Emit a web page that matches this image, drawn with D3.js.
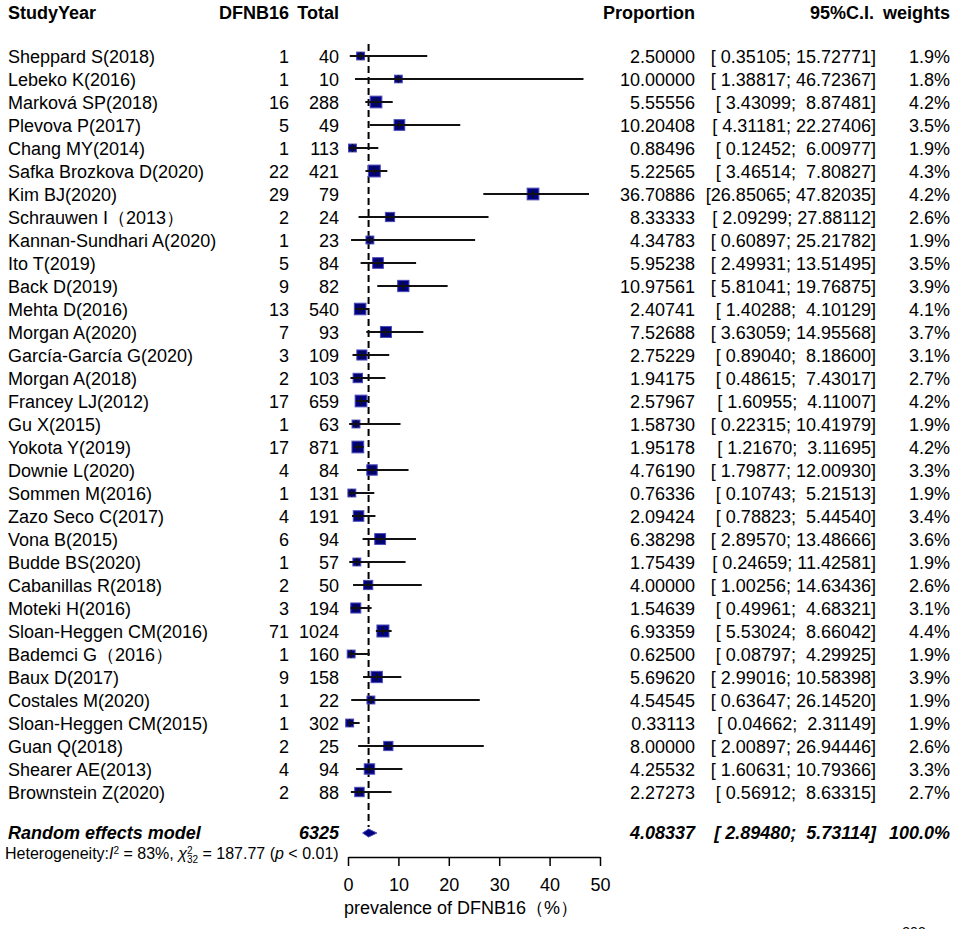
<!DOCTYPE html>
<meta charset="utf-8">
<head>
    <script src="https://d3js.org/d3.v7.min.js"></script>
    <title>DFNB16 forest plot</title>
</head>
<body>
    <div id="forest_viz"></div>
</body>
<style>
    body {
        margin: 0;
        background: #fff;
    }
    text {
        font-family: "Liberation Sans", Arial, sans-serif;
        fill: #000;
    }
</style>
<script>
    // study data
    var studies = ["Sheppard S(2018)", "Lebeko K(2016)", "Marková SP(2018)", "Plevova P(2017)",
        "Chang MY(2014)", "Safka Brozkova D(2020)", "Kim BJ(2020)", "Schrauwen I（2013）",
        "Kannan-Sundhari A(2020)", "Ito T(2019)", "Back D(2019)", "Mehta D(2016)", "Morgan A(2020)",
        "García-García G(2020)", "Morgan A(2018)", "Francey LJ(2012)", "Gu X(2015)", "Yokota Y(2019)",
        "Downie L(2020)", "Sommen M(2016)", "Zazo Seco C(2017)", "Vona B(2015)", "Budde BS(2020)",
        "Cabanillas R(2018)", "Moteki H(2016)", "Sloan-Heggen CM(2016)", "Bademci G（2016）",
        "Baux D(2017)", "Costales M(2020)", "Sloan-Heggen CM(2015)", "Guan Q(2018)",
        "Shearer AE(2013)", "Brownstein Z(2020)"];
    var events = [1, 1, 16, 5, 1, 22, 29, 2, 1, 5, 9, 13, 7, 3, 2, 17, 1, 17, 4, 1, 4, 6, 1, 2, 3, 71, 1, 9, 1, 1, 2, 4, 2];
    var totals = [40, 10, 288, 49, 113, 421, 79, 24, 23, 84, 82, 540, 93, 109, 103, 659, 63, 871, 84, 131,
        191, 94, 57, 50, 194, 1024, 160, 158, 22, 302, 25, 94, 88];
    var props = [2.50000, 10.00000, 5.55556, 10.20408, 0.88496, 5.22565, 36.70886, 8.33333, 4.34783,
        5.95238, 10.97561, 2.40741, 7.52688, 2.75229, 1.94175, 2.57967, 1.58730, 1.95178, 4.76190,
        0.76336, 2.09424, 6.38298, 1.75439, 4.00000, 1.54639, 6.93359, 0.62500, 5.69620, 4.54545,
        0.33113, 8.00000, 4.25532, 2.27273];
    var ciLow = [0.35105, 1.38817, 3.43099, 4.31181, 0.12452, 3.46514, 26.85065, 2.09299, 0.60897,
        2.49931, 5.81041, 1.40288, 3.63059, 0.89040, 0.48615, 1.60955, 0.22315, 1.21670, 1.79877,
        0.10743, 0.78823, 2.89570, 0.24659, 1.00256, 0.49961, 5.53024, 0.08797, 2.99016, 0.63647,
        0.04662, 2.00897, 1.60631, 0.56912];
    var ciHigh = [15.72771, 46.72367, 8.87481, 22.27406, 6.00977, 7.80827, 47.82035, 27.88112, 25.21782,
        13.51495, 19.76875, 4.10129, 14.95568, 8.18600, 7.43017, 4.11007, 10.41979, 3.11695, 12.00930,
        5.21513, 5.44540, 13.48666, 11.42581, 14.63436, 4.68321, 8.66042, 4.29925, 10.58398, 26.14520,
        2.31149, 26.94446, 10.79366, 8.63315];
    var weights = [1.9, 1.8, 4.2, 3.5, 1.9, 4.3, 4.2, 2.6, 1.9, 3.5, 3.9, 4.1, 3.7, 3.1, 2.7, 4.2, 1.9,
        4.2, 3.3, 1.9, 3.4, 3.6, 1.9, 2.6, 3.1, 4.4, 1.9, 3.9, 1.9, 1.9, 2.6, 3.3, 2.7];

    // random effects summary
    var pooledEst = 4.08337, pooledLow = 2.89480, pooledHigh = 5.73114, pooledTotal = 6325, pooledWeight = 100.0;
    var xTicks = [0, 10, 20, 30, 40, 50];

    var width = 957, height = 929;

    var svg = d3.select("#forest_viz")
        .append("svg")
        .attr("width", width)
        .attr("height", height);

    // scales
    var x = d3.scaleLinear().domain([0, 50]).range([348, 600]);
    var y = d3.scalePoint().domain(d3.range(studies.length)).range([56, 792]);
    var boxSize = d3.scaleSqrt().domain([0, 4.4]).range([0, 12]);
    var yPooled = 833, yAxis = 857;

    var f5 = d3.format(".5f");
    var ciText = function (lo, hi) {
        return "[" + f5(lo).padStart(8, " ") + "; " + f5(hi).padStart(8, " ") + "]";
    };

    // column headers
    var heads = [["StudyYear", 8, "start"], ["DFNB16", 289, "end"], ["Total", 339, "end"],
        ["Proportion", 695, "end"], ["95%C.I.", 874, "end"], ["weights", 950, "end"]];
    svg.selectAll(".head")
        .data(heads)
        .enter()
        .append("text")
        .attr("class", "head")
        .attr("x", function (d) { return d[1]; })
        .attr("y", 19)
        .attr("text-anchor", function (d) { return d[2]; })
        .style("font-size", "18px")
        .style("font-weight", "bold")
        .text(function (d) { return d[0]; });

    // table columns
    var rows = svg.selectAll(".row")
        .data(studies)
        .enter()
        .append("g")
        .attr("class", "row")
        .attr("transform", function (d, i) { return "translate(0," + (y(i) + 6.5) + ")"; })
        .style("font-size", "18px");

    rows.append("text").attr("x", 8).text(function (d) { return d; });
    rows.append("text").attr("x", 289).attr("text-anchor", "end")
        .text(function (d, i) { return events[i]; });
    rows.append("text").attr("x", 339).attr("text-anchor", "end")
        .text(function (d, i) { return totals[i]; });
    rows.append("text").attr("x", 695).attr("text-anchor", "end")
        .text(function (d, i) { return f5(props[i]); });
    rows.append("text").attr("x", 876).attr("text-anchor", "end")
        .attr("xml:space", "preserve").style("white-space", "pre")
        .text(function (d, i) { return ciText(ciLow[i], ciHigh[i]); });
    rows.append("text").attr("x", 950).attr("text-anchor", "end")
        .text(function (d, i) { return weights[i].toFixed(1) + "%"; });

    // pooled estimate reference line
    svg.append("line")
        .attr("x1", x(pooledEst)).attr("x2", x(pooledEst))
        .attr("y1", 44).attr("y2", yPooled - 6)
        .attr("stroke", "#000")
        .attr("stroke-width", 2)
        .attr("stroke-dasharray", "7,4");

    // study boxes and confidence intervals
    var marks = svg.selectAll(".mark")
        .data(studies)
        .enter()
        .append("g")
        .attr("class", "mark");

    marks.append("rect")
        .attr("x", function (d, i) { return x(props[i]) - boxSize(weights[i]) / 2; })
        .attr("y", function (d, i) { return y(i) - boxSize(weights[i]) / 2; })
        .attr("width", function (d, i) { return boxSize(weights[i]); })
        .attr("height", function (d, i) { return boxSize(weights[i]); })
        .attr("fill", "#000080")
        .attr("stroke", "#4a4ab8")
        .attr("stroke-width", 1);

    marks.append("line")
        .attr("x1", function (d, i) { return x(ciLow[i]); })
        .attr("x2", function (d, i) { return x(ciHigh[i]); })
        .attr("y1", function (d, i) { return y(i); })
        .attr("y2", function (d, i) { return y(i); })
        .attr("stroke", "#111")
        .attr("stroke-width", 2);

    marks.append("line")
        .attr("x1", function (d, i) { return x(props[i]); })
        .attr("x2", function (d, i) { return x(props[i]); })
        .attr("y1", function (d, i) { return y(i) - 4; })
        .attr("y2", function (d, i) { return y(i) + 4; })
        .attr("stroke", "#111")
        .attr("stroke-width", 1.5);

    // summary diamond
    svg.append("path")
        .attr("d", "M" + x(pooledLow) + "," + yPooled + "L" + x(pooledEst) + "," + (yPooled - 4) +
            "L" + x(pooledHigh) + "," + yPooled + "L" + x(pooledEst) + "," + (yPooled + 4) + "Z")
        .attr("fill", "#000080")
        .attr("stroke", "#4a4ab8")
        .attr("stroke-width", 1);

    // summary row text
    var pooled = svg.append("g")
        .attr("transform", "translate(0," + (yPooled + 6) + ")")
        .style("font-size", "18px")
        .style("font-weight", "bold")
        .style("font-style", "italic");
    pooled.append("text").attr("x", 8).text("Random effects model");
    pooled.append("text").attr("x", 339).attr("text-anchor", "end").text(pooledTotal);
    pooled.append("text").attr("x", 695).attr("text-anchor", "end").text(f5(pooledEst));
    pooled.append("text").attr("x", 876).attr("text-anchor", "end")
        .attr("xml:space", "preserve").style("white-space", "pre")
        .text(ciText(pooledLow, pooledHigh));
    pooled.append("text").attr("x", 950).attr("text-anchor", "end").text(pooledWeight.toFixed(1) + "%");

    // heterogeneity statement
    var het = svg.append("text")
        .attr("x", 5)
        .attr("y", 859)
        .style("font-size", "16px");
    het.append("tspan").text("Heterogeneity:");
    het.append("tspan").style("font-style", "italic").text("I");
    het.append("tspan").attr("dy", -5).style("font-size", "10px").text("2");
    het.append("tspan").attr("dy", 5).text(" = 83%, ");
    het.append("tspan").style("font-style", "italic").text("χ");
    het.append("tspan").attr("dy", -5).style("font-size", "10px").text("2");
    het.append("tspan").attr("dx", -5.6).attr("dy", 9).style("font-size", "10px").text("32");
    het.append("tspan").attr("dy", -4).text(" = 187.77 (");
    het.append("tspan").style("font-style", "italic").text("p");
    het.append("tspan").text(" < 0.01)");

    // x axis
    var axis = svg.append("g")
        .attr("transform", "translate(0," + yAxis + ")")
        .call(d3.axisBottom(x).tickValues(xTicks).tickSize(9).tickSizeOuter(0).tickPadding(12));
    axis.select(".domain").attr("stroke", "#000").attr("stroke-width", 1.5);
    axis.selectAll(".tick line").attr("stroke", "#000").attr("stroke-width", 1.5);
    axis.selectAll(".tick text")
        .style("font-family", "'Liberation Sans', Arial, sans-serif")
        .style("font-size", "18px")
        .attr("fill", "#000");

    svg.append("text")
        .attr("x", 461)
        .attr("y", 914)
        .attr("text-anchor", "middle")
        .style("font-size", "18px")
        .text("prevalence of DFNB16（%）");

    // page number cut off at the bottom edge
    svg.append("text")
        .attr("x", 914)
        .attr("y", 937)
        .attr("text-anchor", "middle")
        .style("font-size", "14px")
        .attr("fill", "#333")
        .text("303");
</script>
